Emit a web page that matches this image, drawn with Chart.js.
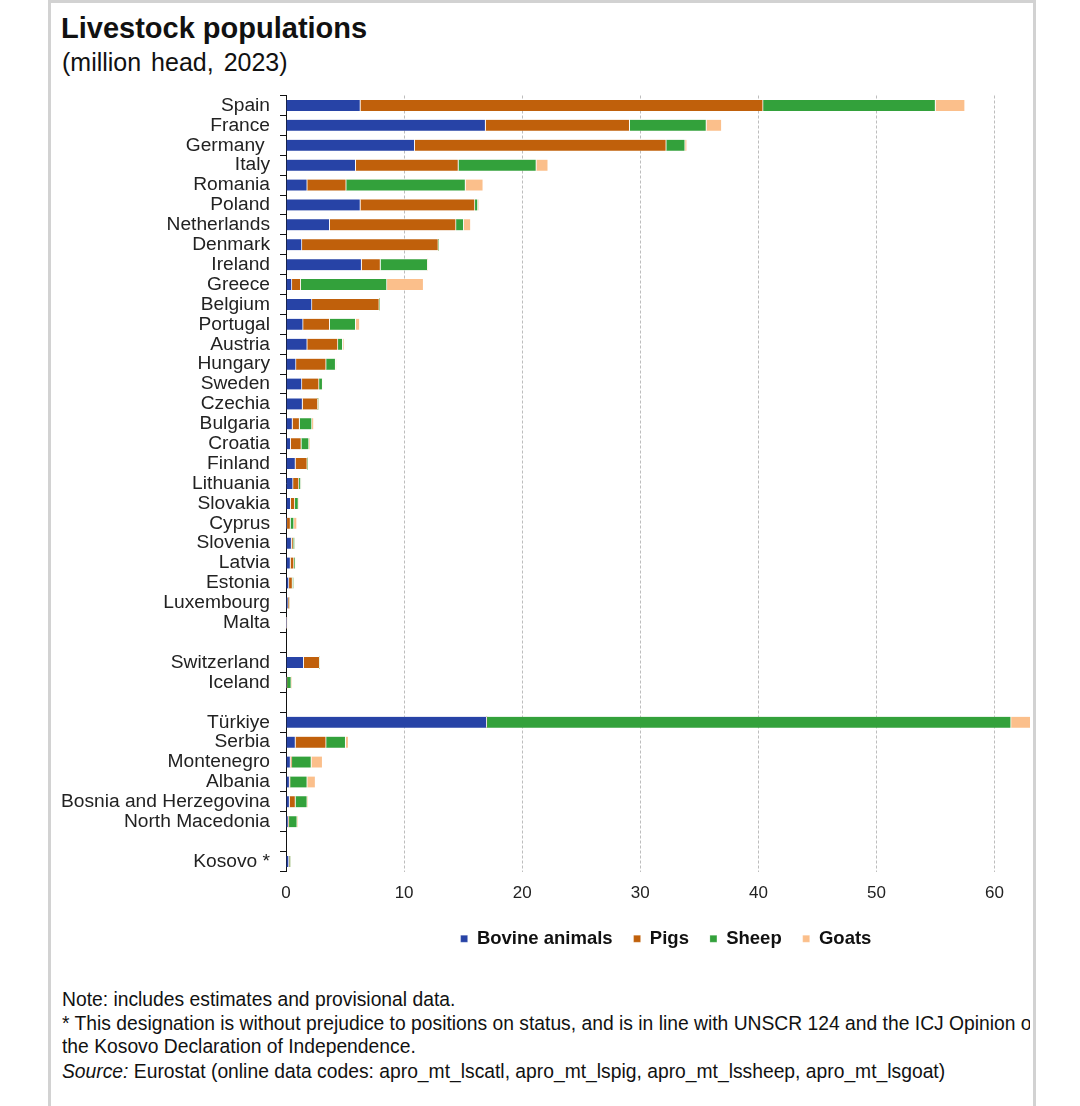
<!DOCTYPE html>
<html>
<head>
<meta charset="utf-8">
<script src="https://cdn.jsdelivr.net/npm/chart.js@4.4.1/dist/chart.umd.min.js"></script>
<style>
  body { margin: 0; background: #fff; width: 1080px; height: 1106px; position: relative; overflow: hidden;
         font-family: "Liberation Sans", Arial, sans-serif; color: #111; }
  #frame { position: absolute; left: 48px; top: 0; width: 982px; height: 1200px;
           border: 3px solid #d2d2d2; border-bottom: none; }
  #title { position: absolute; left: 61px; top: 12px; font-weight: bold; font-size: 29px; }
  #subtitle { position: absolute; left: 62px; top: 48px; font-size: 25px; word-spacing: 3px; }
  #chartbox { position: absolute; left: 52px; top: 74px; width: 978px; height: 884px; }
  #notes { position: absolute; left: 62px; top: 988px; width: 968px; overflow: hidden; white-space: nowrap;
           font-size: 19.3px; line-height: 23.5px; color: #111; }
</style>
</head>
<body>
<div id="frame"></div>
<div id="title">Livestock populations</div>
<div id="subtitle">(million head, 2023)</div>
<div id="chartbox"><canvas id="chart"></canvas></div>
<div id="notes">
  <div>Note: includes estimates and provisional data.</div>
  <div>* This designation is without prejudice to positions on status, and is in line with UNSCR 124 and the ICJ Opinion on</div>
  <div>the Kosovo Declaration of Independence.</div>
  <div style="margin-top:1.5px"><i>Source:</i> Eurostat (online data codes: apro_mt_lscatl, apro_mt_lspig, apro_mt_lssheep, apro_mt_lsgoat)</div>
</div>
<script>
// countries top to bottom, '' rows are the gaps between groups
const countries = ['Spain', 'France', 'Germany ', 'Italy', 'Romania', 'Poland', 'Netherlands', 'Denmark',
  'Ireland', 'Greece', 'Belgium', 'Portugal', 'Austria', 'Hungary', 'Sweden', 'Czechia', 'Bulgaria',
  'Croatia', 'Finland', 'Lithuania', 'Slovakia', 'Cyprus', 'Slovenia', 'Latvia', 'Estonia', 'Luxembourg',
  'Malta', '', 'Switzerland', 'Iceland', '', 'Türkiye', 'Serbia', 'Montenegro', 'Albania',
  'Bosnia and Herzegovina', 'North Macedonia', '', 'Kosovo *'];

// million head, 2023
const bovine = [6.3, 16.9, 10.9, 5.9, 1.8, 6.3, 3.7, 1.35, 6.4, 0.5, 2.2, 1.45, 1.8, 0.85, 1.35, 1.4, 0.55,
  0.4, 0.8, 0.6, 0.4, 0.08, 0.47, 0.38, 0.25, 0.18, 0.015, null, 1.5, 0.08, null, 17.0, 0.8, 0.38, 0.3,
  0.3, 0.2, null, 0.25];
const pigs = [34.1, 12.2, 21.3, 8.7, 3.3, 9.7, 10.7, 11.55, 1.6, 0.75, 5.7, 2.25, 2.6, 2.55, 1.45, 1.3, 0.6,
  0.9, 1.0, 0.5, 0.35, 0.3, 0.15, 0.3, 0.3, 0.07, 0.04, null, 1.35, 0, null, 0, 2.6, 0.12, 0.05,
  0.5, 0.05, null, 0.03];
const sheep = [14.6, 6.5, 1.6, 6.6, 10.1, 0.25, 0.65, 0, 4.0, 7.3, 0, 2.2, 0.4, 0.8, 0.3, 0, 1.05,
  0.65, 0, 0.15, 0.3, 0.3, 0.1, 0.07, 0.08, 0.01, 0.01, null, 0, 0.37, null, 44.4, 1.65, 1.65, 1.45,
  1.0, 0.7, null, 0.1];
const goats = [2.5, 1.3, 0.15, 1.0, 1.5, 0.05, 0.6, 0, 0, 3.1, 0, 0.35, 0.1, 0.05, 0.02, 0, 0.15,
  0.05, 0, 0.02, 0.03, 0.25, 0.02, 0.01, 0.01, 0, 0, null, 0, 0, null, 11.4, 0.25, 0.95, 0.7,
  0.05, 0.05, null, 0.02];

const xTicks = [0, 10, 20, 30, 40, 50, 60];

const seriesStyle = (label, data, color) => ({
  label,
  data,
  backgroundColor: color,
  borderColor: 'rgba(255, 255, 255, 0.85)',
  borderWidth: { top: 0, bottom: 0, left: 0, right: 1 },
  borderSkipped: false,
  barThickness: 11,
});

new Chart(document.getElementById('chart'), {
  type: 'bar',
  data: {
    labels: countries,
    datasets: [
      seriesStyle('Bovine animals', bovine, '#2743a6'),
      seriesStyle('Pigs', pigs, '#c0600b'),
      seriesStyle('Sheep', sheep, '#33a13b'),
      seriesStyle('Goats', goats, '#fbbf8b'),
    ],
  },
  options: {
    indexAxis: 'y',
    responsive: true,
    maintainAspectRatio: false,
    animation: false,
    layout: { padding: { top: 14, right: 0, bottom: 0, left: 0 } },
    plugins: {
      legend: {
        position: 'bottom',
        fullSize: false,
        labels: {
          boxWidth: 7, boxHeight: 7, padding: 21,
          color: '#111',
          font: { family: 'Liberation Sans', size: 18.5, weight: 'bold' },
        },
      },
      tooltip: { enabled: false },
    },
    scales: {
      x: {
        stacked: true,
        min: 0,
        max: 63,
        afterBuildTicks: (s) => { s.ticks = xTicks.map(v => ({ value: v })); },
        afterFit: (s) => { s.height = 37; },
        grid: { color: '#bdbdbd', lineWidth: 1, drawTicks: false },
        border: { display: false, dash: [3, 2] },
        ticks: { padding: 12, color: '#222', font: { family: 'Liberation Sans', size: 17 } },
      },
      y: {
        stacked: true,
        afterFit: (s) => { s.width = 234; },
        grid: { offset: true, drawOnChartArea: false, tickLength: 6, color: '#111' },
        border: { display: true, color: '#111', width: 1 },
        ticks: { padding: 10, autoSkip: false, color: '#222', font: { family: 'Liberation Sans', size: 19.2 } },
      },
    },
  },
  plugins: [{
    // nudge the legend a little right, as in the original
    id: 'legendShift',
    afterLayout(chart) {
      chart.legend.left += 8;
      chart.legend.right += 8;
    },
  }],
});
</script>
</body>
</html>
